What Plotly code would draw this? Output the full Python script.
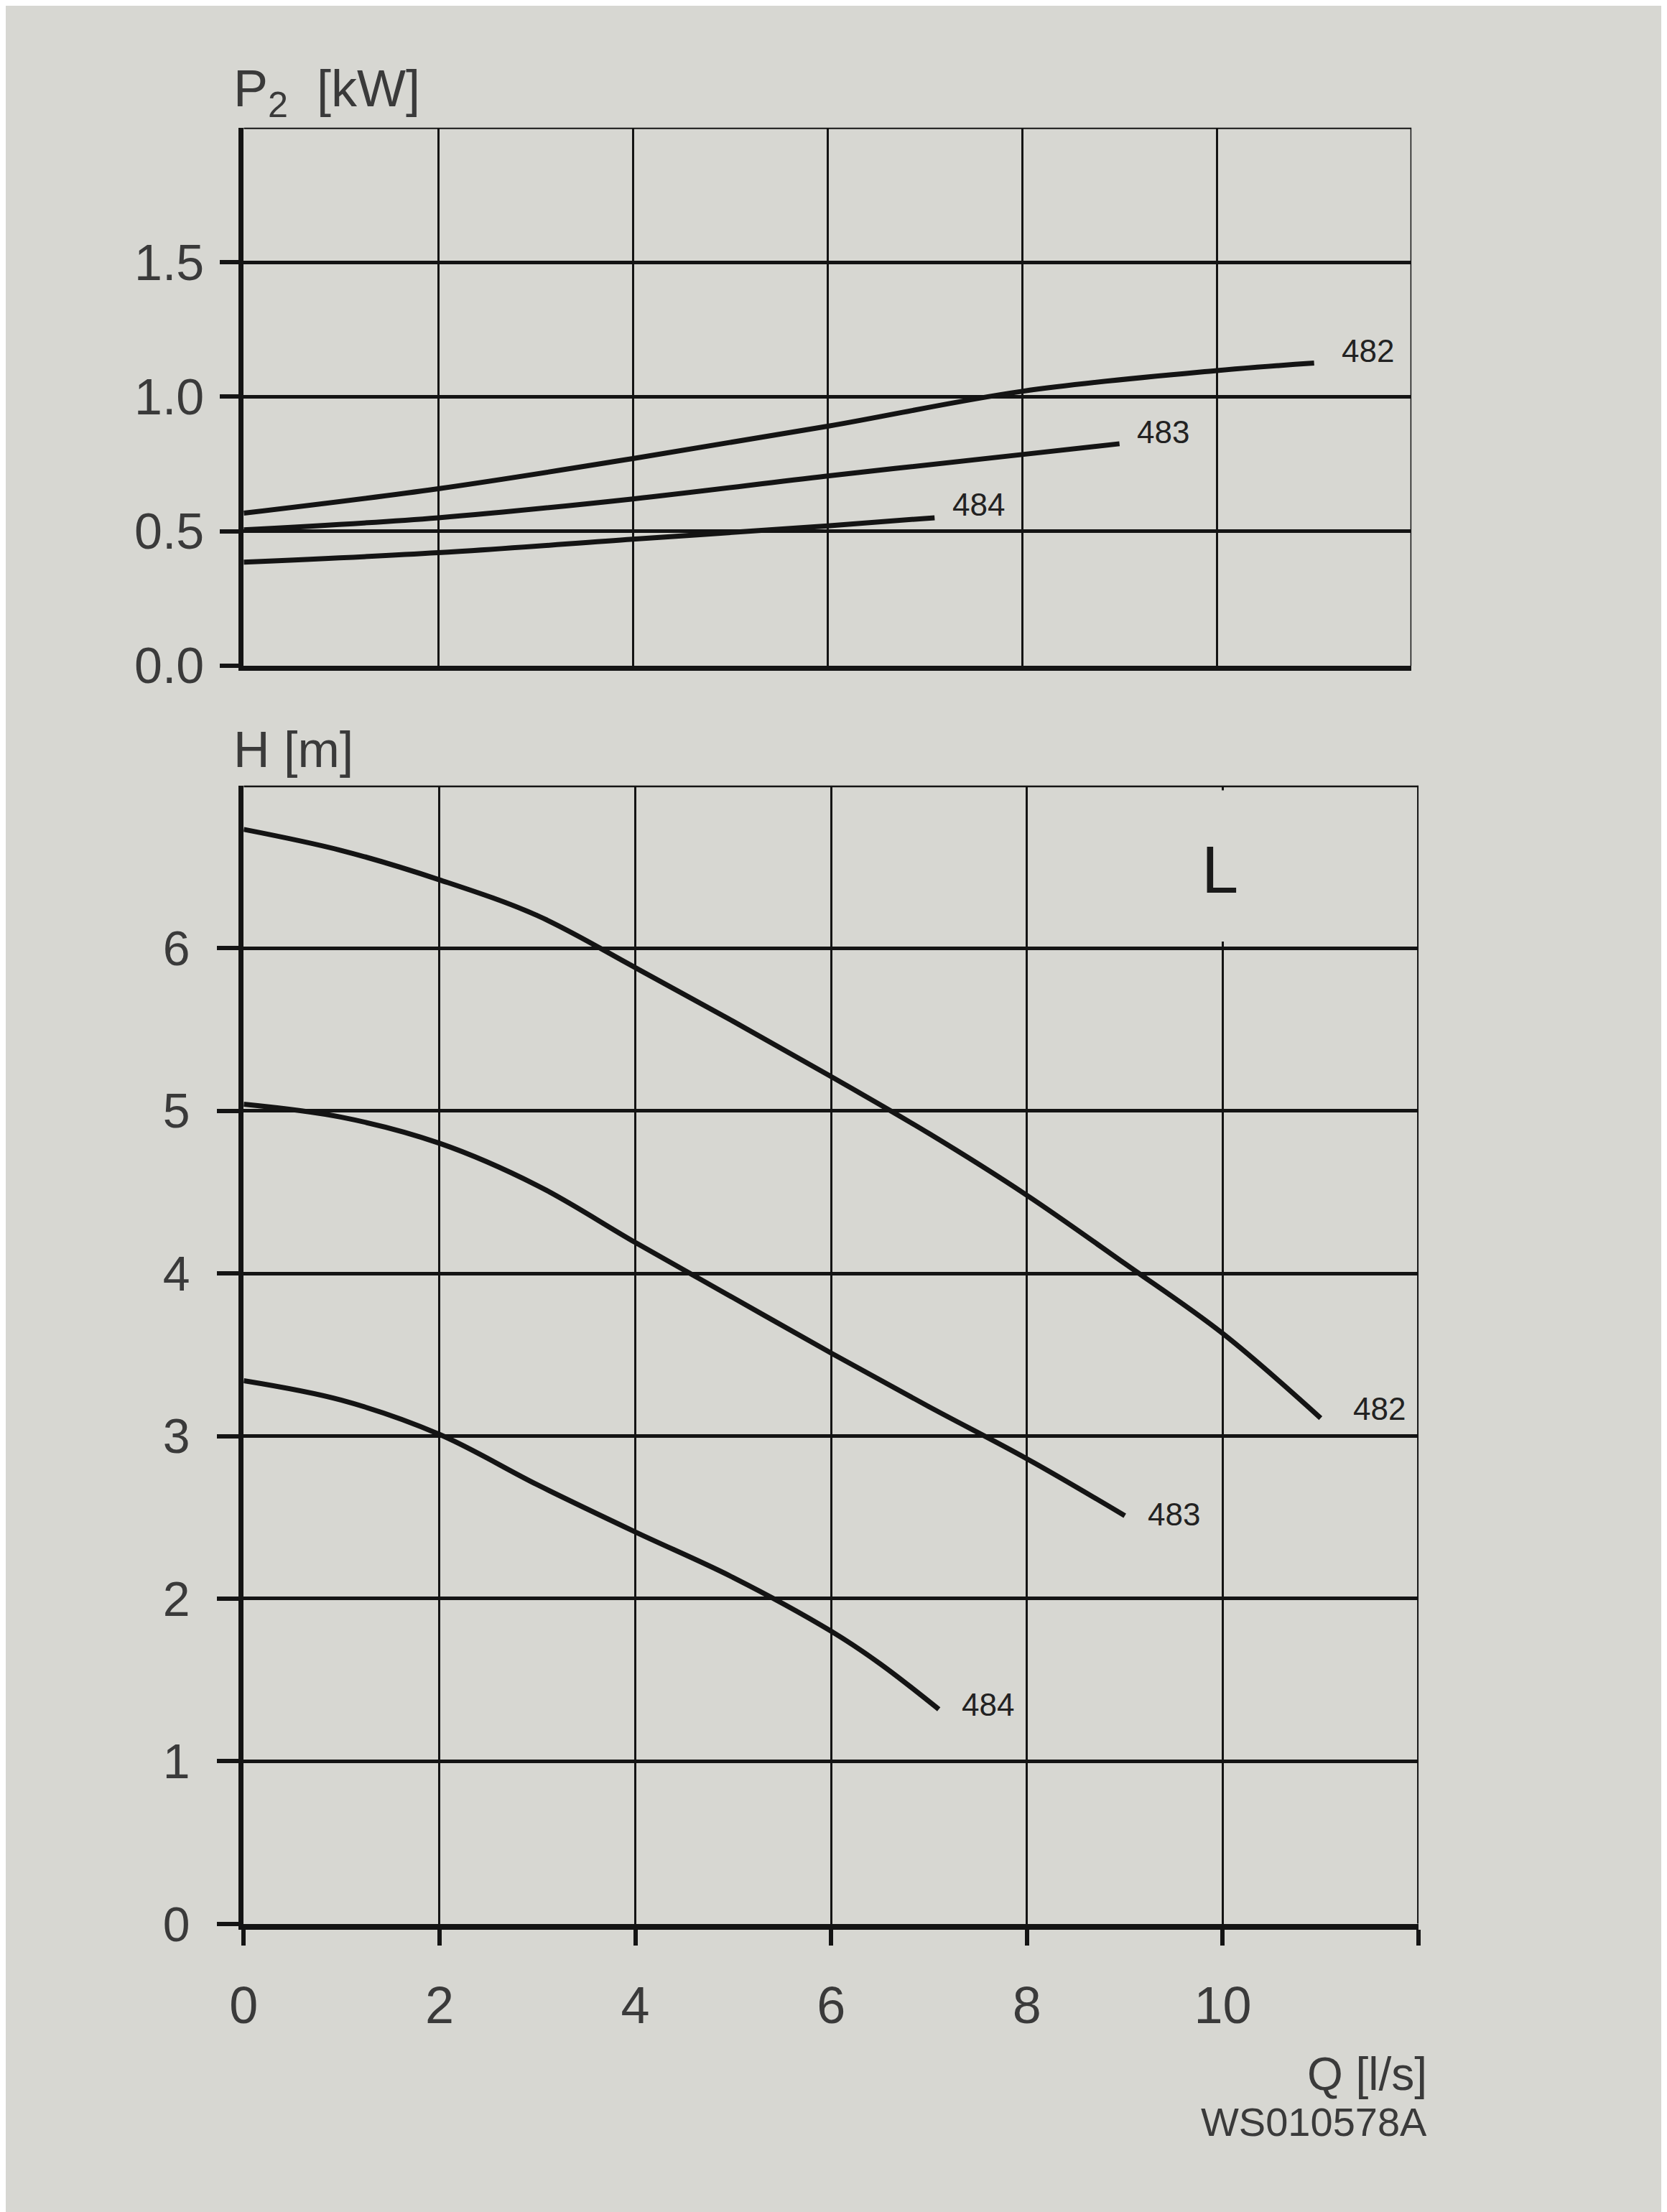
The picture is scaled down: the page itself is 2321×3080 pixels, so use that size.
import plotly.graph_objects as go

# ---------------- data ----------------
# Power curves P2 [kW] vs Q [l/s]
q_p482 = [0, 2, 4, 6, 8, 10, 11]
p_482 = [0.567, 0.658, 0.77, 0.89, 1.02, 1.097, 1.125]
q_p483 = [0, 2, 4, 6, 8, 9]
p_483 = [0.505, 0.55, 0.62, 0.705, 0.785, 0.825]
q_p484 = [0, 2, 4, 6, 7.1]
p_484 = [0.385, 0.42, 0.47, 0.52, 0.55]

# Head curves H [m] vs Q [l/s]
q_h482 = [0, 1, 2, 3, 4, 5, 6, 7, 8, 9, 10, 11]
h_482 = [6.73, 6.60, 6.42, 6.20, 5.88, 5.55, 5.21, 4.86, 4.48, 4.06, 3.63, 3.11]
q_h483 = [0, 1, 2, 3, 4, 5, 6, 7, 8, 9]
h_483 = [5.04, 4.96, 4.80, 4.54, 4.19, 3.85, 3.51, 3.18, 2.86, 2.51]
q_h484 = [0, 1, 2, 3, 4, 5, 6, 6.5, 7.1]
h_484 = [3.34, 3.22, 3.01, 2.70, 2.41, 2.13, 1.80, 1.60, 1.32]

curve_names = ["482", "483", "484"]
p_label_pos = [(11.55, 1.17), (9.45, 0.87), (7.55, 0.60)]
h_label_pos = [(11.6, 3.17), (9.5, 2.52), (7.6, 1.35)]

x_ticks = [0, 2, 4, 6, 8, 10, 12]
x_label_ticks = [0, 2, 4, 6, 8, 10]
x_ticktext = ["0", "2", "4", "6", "8", "10"]
x_end_tick = [12]
p_ticks = [0, 0.5, 1.0, 1.5]
p_ticktext = ["0.0", "0.5", "1.0", "1.5"]
h_ticks = [0, 1, 2, 3, 4, 5, 6]
h_ticktext = ["0", "1", "2", "3", "4", "5", "6"]

# ---------------- style ----------------
BG = "#d7d7d2"
INK = "#141414"
TXT = "#3a3a3a"
FONT = "Liberation Sans, Arial, sans-serif"
NARROW = "Liberation Sans Narrow, Arial Narrow, Liberation Sans, Arial, sans-serif"
W, H = 2321, 3080

fig = go.Figure()

line_style = dict(color=INK, width=7, shape="spline", smoothing=1.0)
for qx, py in [(q_p482, p_482), (q_p483, p_483), (q_p484, p_484)]:
    fig.add_trace(go.Scatter(x=qx, y=py, mode="lines", line=line_style,
                             xaxis="x", yaxis="y", showlegend=False, hoverinfo="skip"))
for qx, hy in [(q_h482, h_482), (q_h483, h_483), (q_h484, h_484)]:
    fig.add_trace(go.Scatter(x=qx, y=hy, mode="lines", line=line_style,
                             xaxis="x2", yaxis="y2", showlegend=False, hoverinfo="skip"))

x_dom_top = [314 / W, 1954 / W]
x_dom_bot = [314 / W, 1964 / W]
y_dom_top = [1 - 931 / H, 1 - 172 / H]
y_dom_bot = [1 - 2706 / H, 1 - 1100 / H]

common_y = dict(showgrid=True, gridcolor=INK, gridwidth=5, zeroline=False,
                showline=True, linecolor=INK, linewidth=7, ticks="outside",
                tickwidth=6, tickcolor=INK)

fig.update_layout(
    width=W, height=H,
    paper_bgcolor=BG, plot_bgcolor=BG,
    margin=dict(l=0, r=0, t=0, b=0),
    showlegend=False,
    xaxis=dict(domain=x_dom_top, anchor="y", range=[0, 12], tickvals=x_ticks,
               showticklabels=False, ticks="", showgrid=True, gridcolor=INK,
               gridwidth=3, zeroline=False,
               showline=True, linecolor=INK, linewidth=7),
    yaxis=dict(domain=y_dom_top, anchor="x", range=[0, 2.0],
               tickvals=p_ticks, ticktext=p_ticktext, ticklen=26,
               tickfont=dict(family=FONT, size=70, color=TXT),
               ticklabelstandoff=8, **common_y),
    xaxis2=dict(domain=x_dom_bot, anchor="y2", range=[0, 12],
                tickvals=x_label_ticks, ticktext=x_ticktext,
                showgrid=True, gridcolor=INK, gridwidth=3, zeroline=False,
                showline=True, linecolor=INK, linewidth=8, ticks="outside",
                ticklen=22, tickwidth=6, tickcolor=INK,
                minor=dict(tickvals=x_end_tick, ticks="outside", ticklen=22,
                           tickwidth=6, tickcolor=INK, showgrid=False),
                tickfont=dict(family=FONT, size=72, color=TXT),
                ticklabelstandoff=22),
    yaxis2=dict(domain=y_dom_bot, anchor="x2", range=[0, 7.0],
                tickvals=h_ticks, ticktext=h_ticktext, ticklen=30,
                tickfont=dict(family=FONT, size=68, color=TXT),
                ticklabelstandoff=24, **common_y),
)

shapes = []
# panel borders (top and right edges)
shapes.append(dict(type="line", xref="x", yref="y", x0=0, x1=12, y0=2.0, y1=2.0,
                   line=dict(color=INK, width=4), layer="above"))
shapes.append(dict(type="line", xref="x", yref="y", x0=12, x1=12, y0=0, y1=2.0,
                   line=dict(color=INK, width=3), layer="above"))
shapes.append(dict(type="line", xref="x2", yref="y2", x0=0, x1=12, y0=7.0, y1=7.0,
                   line=dict(color=INK, width=5), layer="above"))
shapes.append(dict(type="line", xref="x2", yref="y2", x0=12, x1=12, y0=0, y1=7.0,
                   line=dict(color=INK, width=4), layer="above"))
# gap in the grid behind the "L" label
shapes.append(dict(type="rect", xref="x2", yref="y2", x0=9.8, x1=10.2, y0=6.04, y1=6.97,
                   fillcolor=BG, line=dict(width=0), layer="between"))
fig.update_layout(shapes=shapes)

ann = []
for name, (ax_, ay_) in zip(curve_names, p_label_pos):
    ann.append(dict(x=ax_, y=ay_, xref="x", yref="y", text=name, showarrow=False,
                    font=dict(family=NARROW, size=44, color="#222222")))
for name, (ax_, ay_) in zip(curve_names, h_label_pos):
    ann.append(dict(x=ax_, y=ay_, xref="x2", yref="y2", text=name, showarrow=False,
                    font=dict(family=NARROW, size=44, color="#222222")))
ann.append(dict(x=9.97, y=6.48, xref="x2", yref="y2", text="L", showarrow=False,
                font=dict(family=FONT, size=92, color="#1a1a1a")))
ann.append(dict(x=298 / W, y=1 - 122 / H, xref="paper", yref="paper",
                xanchor="left", yanchor="middle", showarrow=False,
                text="P<sub>2</sub>  [kW]", font=dict(family=FONT, size=72, color=TXT)))
ann.append(dict(x=298 / W, y=1 - 1050 / H, xref="paper", yref="paper",
                xanchor="left", yanchor="middle", showarrow=False,
                text="H [m]", font=dict(family=FONT, size=70, color=TXT)))
ann.append(dict(x=1978 / W, y=1 - 2918 / H, xref="paper", yref="paper",
                xanchor="right", yanchor="middle", showarrow=False,
                text="Q [l/s]", font=dict(family=FONT, size=64, color=TXT)))
ann.append(dict(x=1978 / W, y=1 - 2985 / H, xref="paper", yref="paper",
                xanchor="right", yanchor="middle", showarrow=False,
                text="WS010578A", font=dict(family=FONT, size=56, color=TXT)))
fig.update_layout(annotations=ann)

fig.write_html("out.html")
